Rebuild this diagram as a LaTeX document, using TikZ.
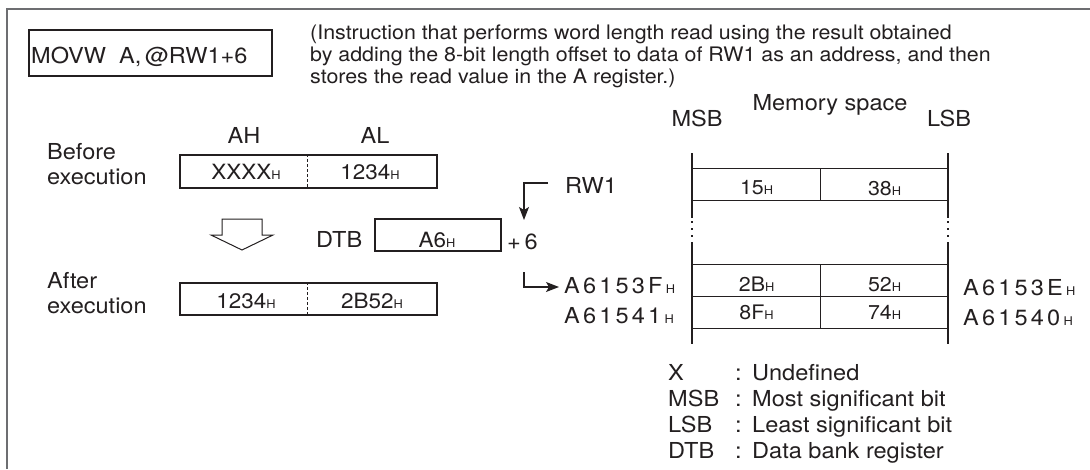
\documentclass[tikz,border=0pt]{standalone}
\usepackage{fontspec}
\setmainfont[FakeStretch=1.07]{TeX Gyre Heros}
\usetikzlibrary{arrows.meta}
\definecolor{ink}{HTML}{231F20}
\definecolor{framegray}{HTML}{6D6E71}
\newcommand\hsub{{\fontsize{12}{12}\selectfont H}}
\newcommand\lsp{\kern3.2pt}
\begin{document}
\begin{tikzpicture}[x=1pt,y=-1pt,
  lbl/.style={inner sep=0pt, text=ink, font=\fontsize{22}{26}\selectfont, anchor=base west},
  clbl/.style={inner sep=0pt, text=ink, font=\fontsize{22}{26}\selectfont, anchor=base},
  ptxt/.style={inner sep=0pt, text=ink, font=\fontsize{20}{22}\selectfont, anchor=base west},
  regbox/.style={draw=ink, line width=2pt, inner sep=0pt, anchor=north west},
  regtxt/.style={inner sep=0pt, text=ink, font=\fontsize{21}{24}\selectfont, anchor=base},
  cell/.style={draw=ink, line width=1.2pt, inner sep=0pt, anchor=north west,
    minimum width=128pt, text=ink, font=\fontsize{20}{24}\selectfont},
  memv/.style={draw=ink, line width=2.5pt},
  memdots/.style={draw=ink, line width=2.5pt, dash pattern=on 2pt off 5pt},
  conn/.style={draw=ink, line width=1.2pt},
  conntip/.style={-{Stealth[length=13pt,width=10pt,inset=3pt]}}
]
\useasboundingbox (0,0) rectangle (1090,469);

% frame
\coordinate (fbl) at (7,469);
\coordinate (ftl) at (7,9);
\coordinate (ftr) at (1090,9);
\draw[framegray, line width=1.6pt] (fbl) -- (ftl) -- (ftr);

% instruction
\node[regbox, minimum width=243pt, minimum height=46pt] (movw) at (28,29) {};
\node[lbl] (movwtxt) at (31,63) {MOVW\ \ A,\,@RW1+6};

\node[ptxt] (p1) at (310,39) {(Instruction that performs word length read using the result obtained};
\node[ptxt] (p2) at (310,61) {by adding the 8-bit length offset to data of RW1 as an address, and then};
\node[ptxt] (p3) at (310,83) {stores the read value in the A register.)};

% registers
\node[clbl] (ah) at (244,143) {AH};
\node[clbl] (al) at (375,143) {AL};
\node[lbl] (bef1) at (47,159) {Before};
\node[lbl] (bef2) at (47,184) {execution};
\node[regbox, minimum width=257pt, minimum height=33pt] (before) at (179,154) {};
\coordinate (bdt) at (307,154);
\coordinate (bdb) at (307,187);
\draw[ink, line width=1pt, dash pattern=on 2.5pt off 2.5pt] (bdt) -- (bdb);
\node[regtxt] (bx) at (246,179) {XXXX\hsub};
\node[regtxt] (bv) at (370,179) {1234\hsub};

% hollow arrow
\draw[ink, line width=1pt, fill=white] (222,219) -- (262,219) -- (262,235) -- (273,235)
  -- (242,250) -- (211,235) -- (222,235) -- cycle;

\node[lbl] (dtblbl) at (316,247) {DTB};
\node[regbox, minimum width=126pt, minimum height=32pt] (dtb) at (374,218) {};
\node[regtxt] (dtbv) at (437,247) {A6\hsub};
\node[lbl] (plus) at (507,249) {+\,6};

\node[lbl] (aft1) at (47,288) {After};
\node[lbl] (aft2) at (47,313) {execution};
\node[regbox, minimum width=257pt, minimum height=32pt] (after) at (179,282) {};
\coordinate (adt) at (307,282);
\coordinate (adb) at (307,314);
\draw[ink, line width=1pt, dash pattern=on 2.5pt off 2.5pt] (adt) -- (adb);
\node[regtxt] (ah2) at (246,308) {1234\hsub};
\node[regtxt] (al2) at (372,308) {2B52\hsub};

% RW1 pointer
\node[lbl] (rw1) at (565,193) {RW1};
\coordinate (rwa) at (548,183);
\coordinate (rwb) at (524,183);
\coordinate (rwc) at (524,220);
\draw[conn, conntip] (rwa) -- (rwb) -- (rwc);
\coordinate (la) at (524,272);
\coordinate (lb) at (524,287);
\coordinate (lc) at (559,287);
\node[lbl] (adr1) at (564,293) {A\lsp 6\lsp 1\lsp 5\lsp 3\lsp F\lsp\hsub};
\node[lbl] (adr2) at (564,323) {A\lsp 6\lsp 1\lsp 5\lsp 4\lsp 1\lsp\hsub};
\draw[conn, conntip] (la) -- (lb) -- (lc);

% memory
\node[clbl] (memsp) at (830,110) {Memory space};
\node[clbl] (msb) at (697,126) {MSB};
\node[clbl] (lsb) at (949,126) {LSB};

\node[cell, text height=26pt, text depth=6pt] (c15) at (692,168) {15\hsub};
\node[cell, text height=27pt, text depth=5pt] (c38) at (820,168) {38\hsub};
\node[cell, text height=27pt, text depth=5pt] (c2b) at (692,264) {2B\hsub};
\node[cell, text height=27pt, text depth=5pt] (c52) at (820,264) {52\hsub};
\node[cell, text height=23pt, text depth=9pt] (c8f) at (692,296) {8F\hsub};
\node[cell, text height=23pt, text depth=9pt] (c74) at (820,296) {74\hsub};

\coordinate (mlt) at (692,153);
\coordinate (mlm1) at (692,218);
\coordinate (mlm2) at (692,242);
\coordinate (mlb) at (692,344);
\coordinate (mrt) at (948,153);
\coordinate (mrm1) at (948,218);
\coordinate (mrm2) at (948,242);
\coordinate (mrb) at (948,344);
\draw[memv] (mlt) -- (mlm1);
\draw[memv] (mlm2) -- (mlb);
\draw[memv] (mrt) -- (mrm1);
\draw[memv] (mrm2) -- (mrb);
\draw[memdots] ([yshift=-3pt]mlm1) -- (mlm2);
\draw[memdots] ([yshift=-3pt]mrm1) -- (mrm2);

\node[lbl] (adr3) at (963,295) {A\lsp 6\lsp 1\lsp 5\lsp 3\lsp E\lsp\hsub};
\node[lbl] (adr4) at (963,325) {A\lsp 6\lsp 1\lsp 5\lsp 4\lsp 0\lsp\hsub};

% legend
\node[lbl] (k1) at (668,380) {X};
\node[lbl] (k2) at (668,406) {MSB};
\node[lbl] (k3) at (668,432) {LSB};
\node[lbl] (k4) at (668,458) {DTB};
\foreach \yy/\nm in {380/c1,406/c2,432/c3,458/c4}
  \node[lbl] (\nm) at (735,\yy) {:};
\node[lbl] (d1) at (752,380) {Undefined};
\node[lbl] (d2) at (752,406) {Most significant bit};
\node[lbl] (d3) at (752,432) {Least significant bit};
\node[lbl] (d4) at (752,458) {Data bank register};
\end{tikzpicture}
\end{document}
